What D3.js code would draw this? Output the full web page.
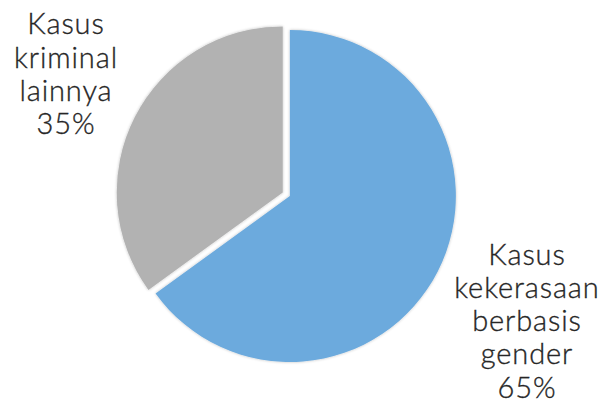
<!DOCTYPE html>
<html><head><meta charset="utf-8">
<script src="https://cdn.jsdelivr.net/npm/d3@7"></script>
<style>html,body{margin:0;padding:0;background:#fff;}svg{display:block;}</style>
</head><body>
<svg id="c" width="607" height="406"></svg>
<script>
const categories = ["Kasus kekerasaan berbasis gender", "Kasus kriminal lainnya"];
const values = [65, 35];
const labelLines = [["Kasus","kekerasaan","berbasis","gender","65%"],["Kasus","kriminal","lainnya","35%"]];
const colors = ["#6CAADD", "#B2B2B2"];

const svg = d3.select("#c");
const cx = 286.3, cy = 194.2, R = 166, explode = 4;
const pie = d3.pie().sort(null).value(d => d)(values);
const arc = d3.arc().innerRadius(0).outerRadius(R);
const defs = svg.append("defs");
const f = defs.append("filter").attr("id","sh").attr("x","-10%").attr("y","-10%").attr("width","120%").attr("height","120%");
f.append("feGaussianBlur").attr("in","SourceAlpha").attr("stdDeviation",1.5).attr("result","b");
f.append("feComponentTransfer").attr("in","b").attr("result","b2").append("feFuncA").attr("type","linear").attr("slope",0.25);
const m = f.append("feMerge"); m.append("feMergeNode").attr("in","b2"); m.append("feMergeNode").attr("in","SourceGraphic");

const g = svg.append("g").attr("transform", `translate(${cx},${cy})`);
g.selectAll("path").data(pie).join("path")
  .attr("d", arc)
  .attr("fill", (d,i) => colors[i])
  .attr("filter","url(#sh)")
  .attr("transform", d => {
    const a = (d.startAngle + d.endAngle) / 2;
    return `translate(${explode*Math.sin(a)},${-explode*Math.cos(a)})`;
  });

const labelPos = [[527, 264.5], [66, 34.3]];
const lh = 33.3;
labelLines.forEach((lines, i) => {
  const t = svg.append("text").attr("text-anchor","middle")
    .attr("font-family","Lato, 'Open Sans', sans-serif").attr("font-size", 29)
    .attr("font-weight", 300).attr("letter-spacing", 0.9)
    .attr("fill","#262626").attr("stroke","#262626").attr("stroke-width",0.35);
  lines.forEach((s, j) => {
    t.append("tspan").attr("x", labelPos[i][0]).attr("y", labelPos[i][1] + j*lh).text(s);
  });
});
</script>
</body></html>
